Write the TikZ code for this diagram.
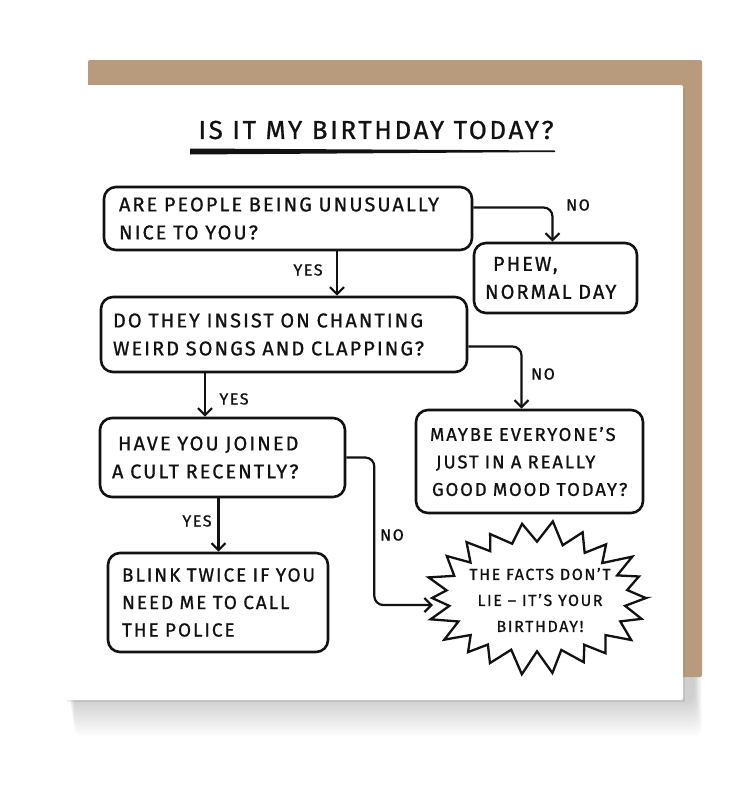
\documentclass[tikz,border=0pt]{standalone}
\usepackage{fontspec}
\setmainfont{Fira Sans}
\newfontfamily\hand[LetterSpace=10,FakeBold=0.8]{Fira Sans}
\usetikzlibrary{arrows.meta,calc}
\definecolor{envel}{RGB}{184,154,124}
\definecolor{ink}{RGB}{18,18,18}
\begin{document}
\begin{tikzpicture}[x=1pt,y=-1pt,
  box/.style={draw=ink, line width=2.6pt, rounded corners=12pt, inner xsep=15pt, inner ysep=0pt,
    align=left, text=ink, font=\hand\fontsize{20}{28}\selectfont},
  conn/.style={draw=ink, line width=2.2pt, rounded corners=9pt, -{Straight Barb[length=7pt,width=14pt,line width=2.2pt]}},
  lab/.style={text=ink, font=\hand\fontsize{16}{18}\selectfont, inner sep=1pt},
  titlet/.style={text=ink, font=\hand\fontsize{26}{30}\selectfont, inner sep=0pt}]
\useasboundingbox (0,0) rectangle (738,793);
\fill[white] (0,0) rectangle (738,793);
% shadows
\foreach \k in {1,...,16}{
  \fill[black, opacity=0.011, rounded corners=8pt] (68+\k*0.4,120) rectangle (694+\k*0.5,698+\k*2.4);
}
% envelope
\fill[envel, rounded corners=2pt] (88,60) rectangle (702,677);
% card
\fill[black, opacity=0.07] (67,88) rectangle (685,702);
\fill[white, rounded corners=2pt] (65,85) rectangle (683,700);

% title
\node[titlet] (title) at (376,130) {IS IT MY BIRTHDAY TODAY?};
\fill[ink] (190,148.5) -- (555,150.5) -- (555,152) -- (190,154.5) -- cycle;

% boxes
\node[box, minimum width=368pt, minimum height=63pt, text width=338pt] (b1) at (288,218.5)
  {ARE PEOPLE BEING UNUSUALLY\\NICE TO YOU?};
\node[box, minimum width=163pt, minimum height=70pt, text width=141pt, inner xsep=11pt] (b2) at (555.5,278)
  {\hspace*{8pt}PHEW,\\NORMAL DAY};
\node[box, minimum width=366pt, minimum height=75pt, text width=342pt, inner xsep=12pt] (b3) at (284,334.5)
  {DO THEY INSIST ON CHANTING\\WEIRD SONGS AND CLAPPING?};
\node[box, minimum width=227pt, minimum height=103pt, text width=211pt, inner xsep=8pt, font=\hand\fontsize{18.5}{27.5}\selectfont] (b4) at (529.5,461.5)
  {\hspace*{6pt}MAYBE EVERYONE’S\\\hspace*{12pt}JUST IN A REALLY\\\hspace*{8pt}GOOD MOOD TODAY?};
\node[box, minimum width=245pt, minimum height=79pt, text width=221pt, inner xsep=12pt] (b5) at (222.5,457.5)
  {\hspace*{6pt}HAVE YOU JOINED\\A CULT RECENTLY?};
\node[box, minimum width=220pt, minimum height=99pt, text width=200pt, inner xsep=10pt, font=\hand\fontsize{19}{27.5}\selectfont] (b6) at (218,602.5)
  {\hspace*{4pt}BLINK TWICE IF YOU\\\hspace*{4pt}NEED ME TO CALL\\\hspace*{4pt}THE POLICE};

% starburst
\draw[ink, line width=2.3pt, line join=miter, miter limit=20, shift={(537,598)}]
    (109,0)
    \foreach \i in {0,...,21} { -- ({89*(1+0.03*sin(\i*71))*cos((\i+0.5)*360/22)},{55*(1+0.03*sin(\i*53))*sin((\i+0.5)*360/22)}) -- ({109*(1+0.04*sin(\i*137))*cos((\i+1)*360/22)},{74*(1+0.05*sin(\i*97))*sin((\i+1)*360/22)}) } -- cycle;
\node[text=ink, align=center, font=\hand\fontsize{16}{26}\selectfont] (st) at (540,600)
  {THE FACTS DON’T\\LIE – IT’S YOUR\\BIRTHDAY!};
\coordinate (stl) at (433,605);

% connectors
\draw[conn] ([yshift=11pt]b1.east) -| ([xshift=-3pt]b2.north);
\node[lab] (n1) at (578,205) {NO};
\draw[conn] ([xshift=49pt]b1.south) -- ([xshift=49pt]b1.south |- b3.north);
\node[lab] (y1) at (308,270) {YES};
\draw[conn] ([yshift=-12pt]b3.east) -| ([xshift=-8pt]b4.north);
\node[lab] (n2) at (543,374) {NO};
\draw[conn] ([xshift=-79pt]b3.south) -- ([xshift=-79pt]b3.south |- b5.north);
\node[lab] (y2) at (234,399) {YES};
\draw[conn] (b5.east) -- ++(28,0) |- (stl);
\node[lab] (n3) at (392,535) {NO};
\draw[conn] ([xshift=-4pt]b5.south) -- ([xshift=-4pt]b5.south |- b6.north);
\node[lab] (y3) at (197,521) {YES};
\end{tikzpicture}
\end{document}
